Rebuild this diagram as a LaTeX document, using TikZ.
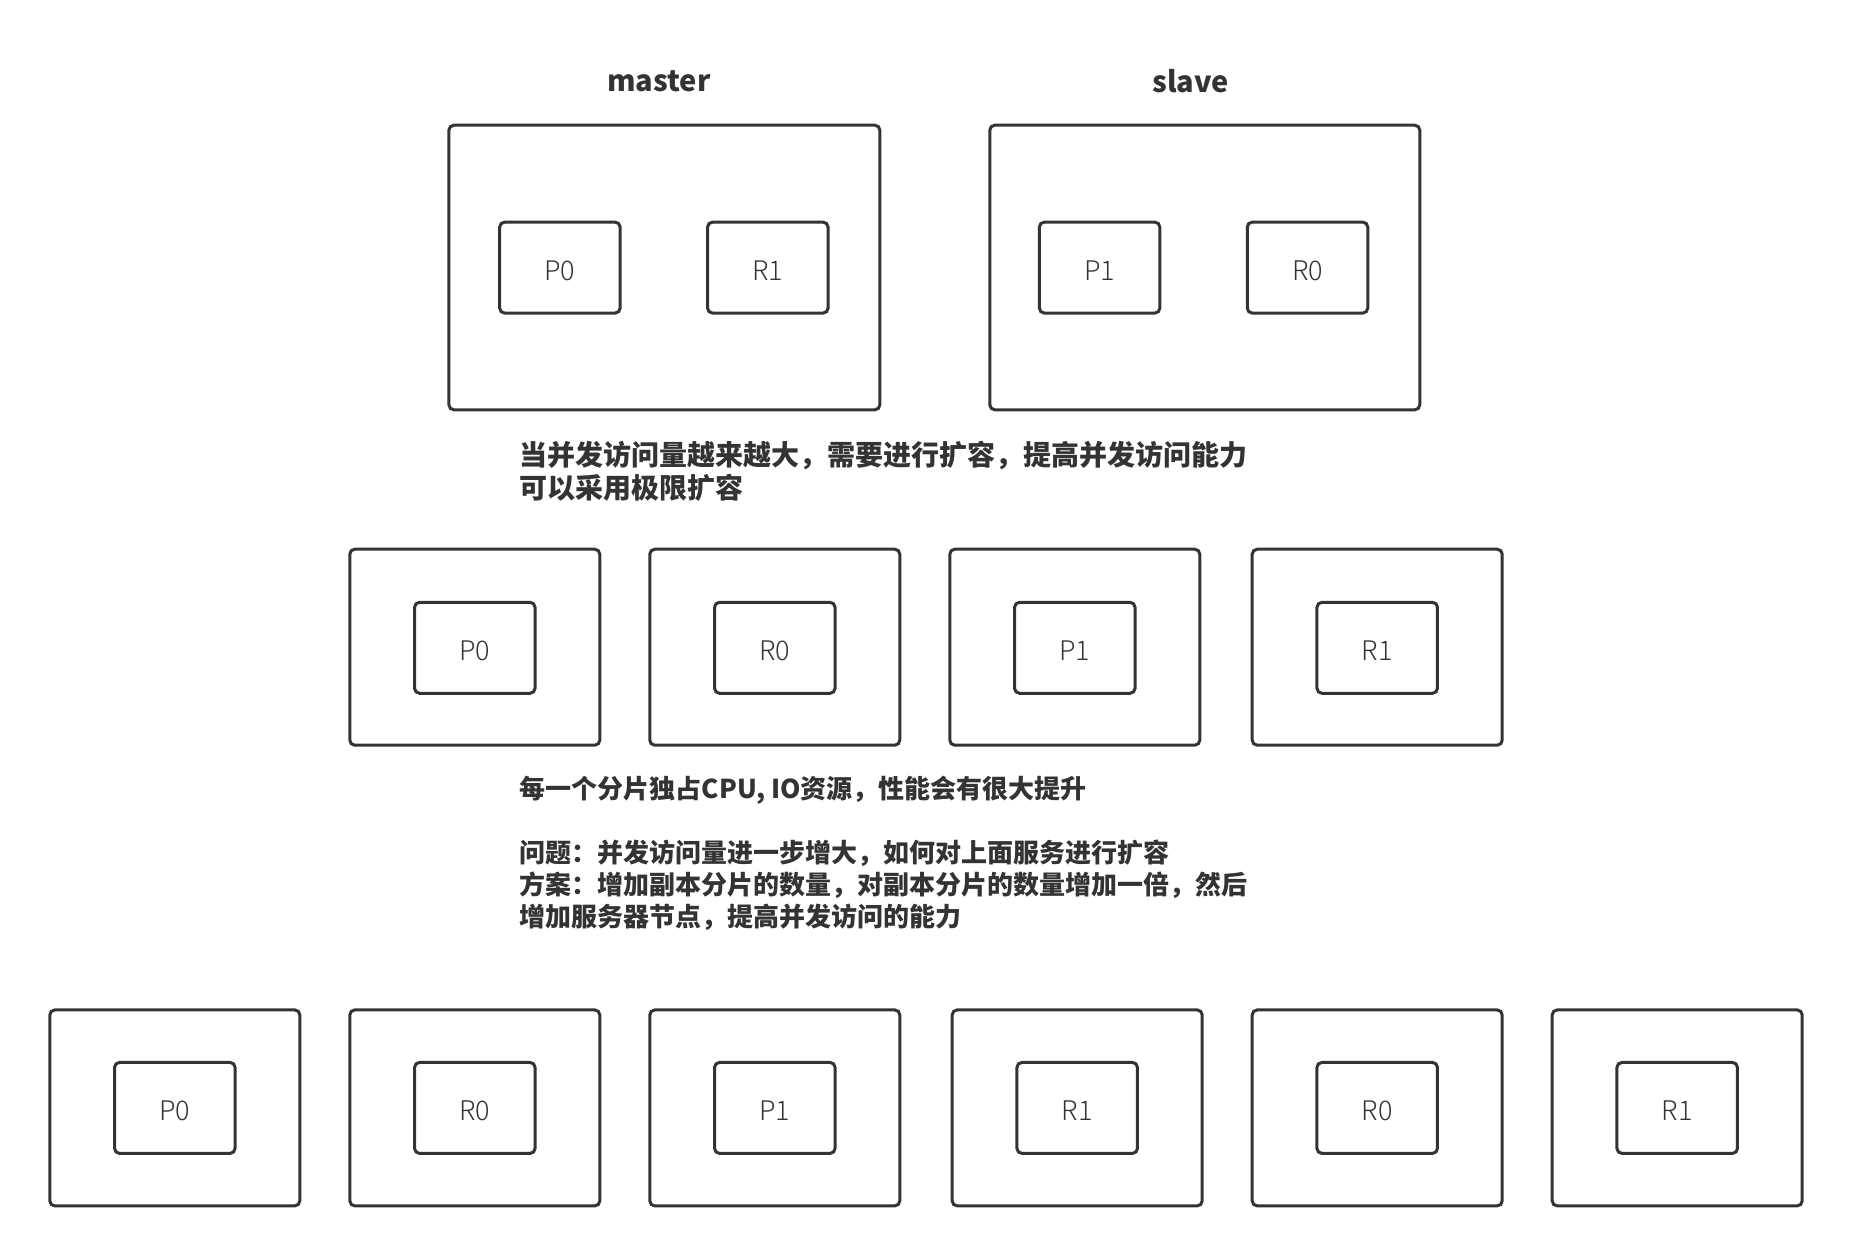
\documentclass[tikz,border=0pt]{standalone}
\usepackage{fontspec}
\newfontfamily\cjk{Noto Sans CJK SC}
\newfontfamily\cjklight{Noto Sans CJK SC Light}
\definecolor{lc}{HTML}{333333}
\begin{document}
\begin{tikzpicture}[x=1pt,y=-1pt,
  outerbox/.style={draw=lc, line width=3pt, rounded corners=5pt, inner sep=0pt, minimum width=#1},
  outerbox/.default=250pt,
  shard/.style={draw=lc, line width=3pt, rounded corners=5pt, inner sep=0pt,
    minimum width=120.5pt, minimum height=91pt, text=lc,
    text height=25.8pt, text depth=0pt,
    font=\cjklight\fontsize{27pt}{30pt}\selectfont},
  title/.style={text=lc, inner sep=0pt, font=\cjk\bfseries\fontsize{29pt}{34pt}\selectfont},
  note/.style={text=lc, inner sep=0pt, align=left, anchor=north west}
]
\useasboundingbox (0,0) rectangle (1852,1256);
% top
\node[title] (tm) at (659,81) {master};
\node[title] (ts) at (1190.6,81) {slave};
\node[outerbox=431pt, minimum height=284.6pt] (m) at (664.4,267.5) {};
\node[outerbox=430pt, minimum height=284.6pt] (s) at (1204.8,267.5) {};
\node[shard] (mP0) at (559.9,267.6) {P0};
\node[shard] (mR1) at (767.8,267.6) {R1};
\node[shard] (sP1) at (1099.6,267.6) {P1};
\node[shard] (sR0) at (1307.5,267.6) {R0};
% text 1
\node[note, font=\cjk\bfseries\fontsize{28pt}{33pt}\selectfont] (t1) at (519.7,441)
  {当并发访问量越来越大，需要进行扩容，提高并发访问能力\\可以采用极限扩容};
% row 2
\foreach \n/\x/\l in {1/474.8/P0, 2/774.8/R0, 3/1074.8/P1, 4/1377.2/R1}{
  \node[outerbox, minimum height=196pt] (b\n) at (\x,647.2) {};
  \node[shard] (i\n) at (\x,647.8) {\l};
}
% text 2
\node[note, font=\cjk\bfseries\fontsize{26pt}{31.9pt}\selectfont] (t2) at (519.7,776)
  {每一个分片独占CPU, IO资源，性能会有很大提升\\[31.9pt]问题：并发访问量进一步增大，如何对上面服务进行扩容\\方案：增加副本分片的数量，对副本分片的数量增加一倍，然后\\增加服务器节点，提高并发访问的能力};
% row 3
\foreach \n/\x/\l in {1/174.8/P0, 2/474.8/R0, 3/774.8/P1, 4/1077.2/R1, 5/1377.2/R0, 6/1677.2/R1}{
  \node[outerbox, minimum height=196pt] (c\n) at (\x,1107.9) {};
  \node[shard] (j\n) at (\x,1107.9) {\l};
}
\end{tikzpicture}
\end{document}
